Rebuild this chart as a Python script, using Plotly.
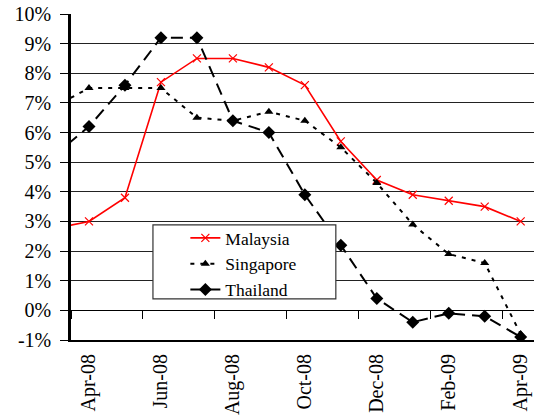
import plotly.graph_objects as go

months = ["Mar-08", "Apr-08", "May-08", "Jun-08", "Jul-08", "Aug-08", "Sep-08",
          "Oct-08", "Nov-08", "Dec-08", "Jan-09", "Feb-09", "Mar-09", "Apr-09"]
malaysia = [2.75, 3.0, 3.8, 7.7, 8.5, 8.5, 8.2, 7.6, 5.7, 4.4, 3.9, 3.7, 3.5, 3.0]
singapore = [6.85, 7.5, 7.5, 7.5, 6.5, 6.4, 6.7, 6.4, 5.5, 4.3, 2.9, 1.9, 1.6, -0.8]
thailand = [5.2, 6.2, 7.6, 9.2, 9.2, 6.4, 6.0, 3.9, 2.2, 0.4, -0.4, -0.1, -0.2, -0.9]
x_labels = ["Apr-08", "Jun-08", "Aug-08", "Oct-08", "Dec-08", "Feb-09", "Apr-09"]
y_vals = [-1, 0, 1, 2, 3, 4, 5, 6, 7, 8, 9, 10]
y_text = ["-1%", "0%", "1%", "2%", "3%", "4%", "5%", "6%", "7%", "8%", "9%", "10%"]

FONT = "Liberation Serif, Times New Roman, Times, serif"

xrange = [0.5, 13.37]
boundaries = [i - 0.5 for i in range(1, len(months), 2)]

fig = go.Figure()
# invisible carrier trace for the tick-mark axis drawn along the 0% line
fig.add_trace(go.Scatter(x=boundaries, y=[0] * len(boundaries), xaxis="x2", yaxis="y",
                         mode="markers", marker=dict(opacity=0, size=1),
                         showlegend=False, hoverinfo="skip"))
fig.add_trace(go.Scatter(x=months, y=malaysia, name="Malaysia", mode="lines+markers",
                         line=dict(color="#ff0000", width=1.6),
                         marker=dict(symbol="x-thin", size=8, color="#ff0000",
                                     line=dict(color="#ff0000", width=1.2))))
fig.add_trace(go.Scatter(x=months, y=singapore, name="Singapore", mode="lines+markers",
                         line=dict(color="black", width=2, dash="4px,6px"),
                         marker=dict(symbol="triangle-up", size=8, color="black")))
fig.add_trace(go.Scatter(x=months, y=thailand, name="Thailand", mode="lines+markers",
                         line=dict(color="black", width=2, dash="12px,7px"),
                         marker=dict(symbol="diamond", size=10, color="black")))

fig.update_layout(
    width=534, height=416,
    margin=dict(l=71, r=0, t=14, b=76, autoexpand=False),
    paper_bgcolor="white", plot_bgcolor="white",
    font=dict(family=FONT, color="black"),
    showlegend=True,
    legend=dict(x=0.247, y=0.368, xanchor="left", yanchor="top",
                bgcolor="rgba(0,0,0,0)", borderwidth=0,
                font=dict(family=FONT, size=17.5, color="black"),
                tracegroupgap=0, itemwidth=30),
    xaxis=dict(type="category", categoryorder="array", categoryarray=months,
               range=xrange, tickmode="array", tickvals=x_labels, ticktext=x_labels,
               tickangle=-90, ticks="outside", ticklen=4, tickcolor="rgba(0,0,0,0)",
               showgrid=False, zeroline=False,
               showline=True, linecolor="black", linewidth=2,
               tickfont=dict(family=FONT, size=20, color="black")),
    xaxis2=dict(overlaying="x", anchor="free", position=1 / 11, type="linear",
                range=xrange, tickmode="array", tickvals=boundaries,
                showticklabels=False, ticks="outside", ticklen=8, tickwidth=1,
                tickcolor="black", showgrid=False, zeroline=False,
                showline=True, linecolor="black", linewidth=1),
    yaxis=dict(range=[-1, 10], tickmode="array", tickvals=y_vals, ticktext=y_text,
               showgrid=True, gridcolor="#222222", gridwidth=1, zeroline=False,
               showline=True, linecolor="black", linewidth=2.5,
               ticks="outside", ticklen=8, tickcolor="black", tickwidth=1,
               ticklabelstandoff=5,
               tickfont=dict(family=FONT, size=20, color="black")),
    shapes=[dict(type="rect", xref="paper", yref="paper",
                 x0=0.177, x1=0.572, y0=0.126, y1=0.353, layer="above",
                 fillcolor="white", line=dict(color="#333333", width=1.2))],
)

fig.write_html("out.html", config={"displayModeBar": False},
               post_script="document.body.style.margin='0';document.body.style.padding='0';")
